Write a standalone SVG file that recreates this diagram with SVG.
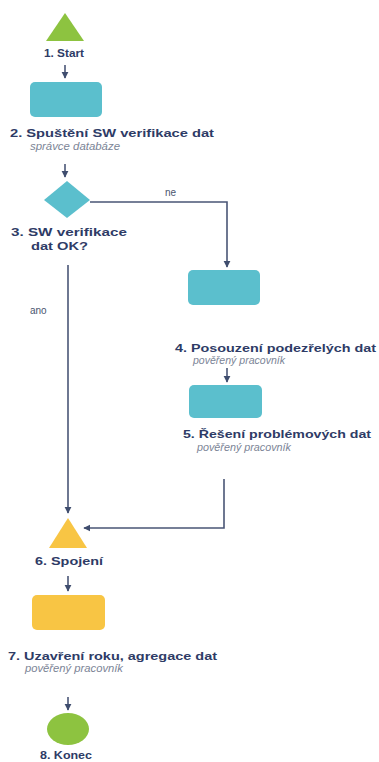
<svg xmlns="http://www.w3.org/2000/svg" width="379" height="762" viewBox="0 0 379 762">
<defs>
<marker id="ah" viewBox="0 0 10 10" refX="9" refY="5" markerWidth="4.5" markerHeight="4.5" orient="auto"><path d="M0,0 L10,5 L0,10 z" fill="#3f4d6e"/></marker>
<style>
.t{font-family:"Liberation Sans",Arial,sans-serif;font-weight:bold;font-size:11px;fill:#2e3b66}
.s{font-family:"Liberation Sans",Arial,sans-serif;font-style:italic;font-size:10px;fill:#7b8496}
.l{font-family:"Liberation Sans",Arial,sans-serif;font-size:10px;fill:#4a556e}
.c{fill:none;stroke:#4a5676;stroke-width:1.6}
.teal{fill:#5bbfcd}
.yel{fill:#f8c544}
.grn{fill:#8dc340}
</style>
</defs>
<rect width="379" height="762" fill="#ffffff"/>
<g id="connectors">
<path class="c" d="M65,65 V78" marker-end="url(#ah)"/>
<path class="c" d="M65,164 V177" marker-end="url(#ah)"/>
<path class="c" d="M90,202 H227 V267" marker-end="url(#ah)"/>
<path class="c" d="M227,368 V382" marker-end="url(#ah)"/>
<path class="c" d="M68,265 V513" marker-end="url(#ah)"/>
<path class="c" d="M224,479 V528 H84" marker-end="url(#ah)"/>
<path class="c" d="M68,576 V591" marker-end="url(#ah)"/>
<path class="c" d="M68,697 V710" marker-end="url(#ah)"/>
<text class="l" x="165" y="196">ne</text>
<text class="l" x="30" y="314">ano</text>
</g>
<g id="n1">
<polygon class="grn" points="65,13 84,41 46,41"/>
<text class="t" x="44" y="57" textLength="40" lengthAdjust="spacingAndGlyphs">1. Start</text>
</g>
<g id="n2">
<rect class="teal" x="30" y="82" width="72" height="35" rx="5"/>
<text class="t" x="10" y="137" textLength="204" lengthAdjust="spacingAndGlyphs">2. Spuštění SW verifikace dat</text>
<text class="s" x="30" y="150" textLength="90" lengthAdjust="spacingAndGlyphs">správce databáze</text>
</g>
<g id="n3">
<polygon class="teal" points="67,181 90,200 67,218 44,200"/>
<text class="t" x="11" y="236" textLength="116" lengthAdjust="spacingAndGlyphs">3. SW verifikace</text>
<text class="t" x="31" y="250" textLength="57" lengthAdjust="spacingAndGlyphs">dat OK?</text>
</g>
<g id="n4">
<rect class="teal" x="188" y="270" width="72" height="35" rx="5"/>
<text class="t" x="175" y="352" textLength="201" lengthAdjust="spacingAndGlyphs">4. Posouzení podezřelých dat</text>
<text class="s" x="193" y="364" textLength="92" lengthAdjust="spacingAndGlyphs">pověřený pracovník</text>
</g>
<g id="n5">
<rect class="teal" x="189" y="385" width="73" height="33" rx="5"/>
<text class="t" x="183" y="438" textLength="188" lengthAdjust="spacingAndGlyphs">5. Řešení problémových dat</text>
<text class="s" x="197" y="451" textLength="94" lengthAdjust="spacingAndGlyphs">pověřený pracovník</text>
</g>
<g id="n6">
<polygon class="yel" points="68,518 87,548 49,548"/>
<text class="t" x="35" y="565" textLength="68" lengthAdjust="spacingAndGlyphs">6. Spojení</text>
</g>
<g id="n7">
<rect class="yel" x="32" y="595" width="73" height="35" rx="5"/>
<text class="t" x="8" y="660" textLength="209" lengthAdjust="spacingAndGlyphs">7. Uzavření roku, agregace dat</text>
<text class="s" x="25" y="672" textLength="98" lengthAdjust="spacingAndGlyphs">pověřený pracovník</text>
</g>
<g id="n8">
<ellipse class="grn" cx="68" cy="729" rx="21" ry="16"/>
<text class="t" x="40" y="759" textLength="52" lengthAdjust="spacingAndGlyphs">8. Konec</text>
</g>
</svg>
